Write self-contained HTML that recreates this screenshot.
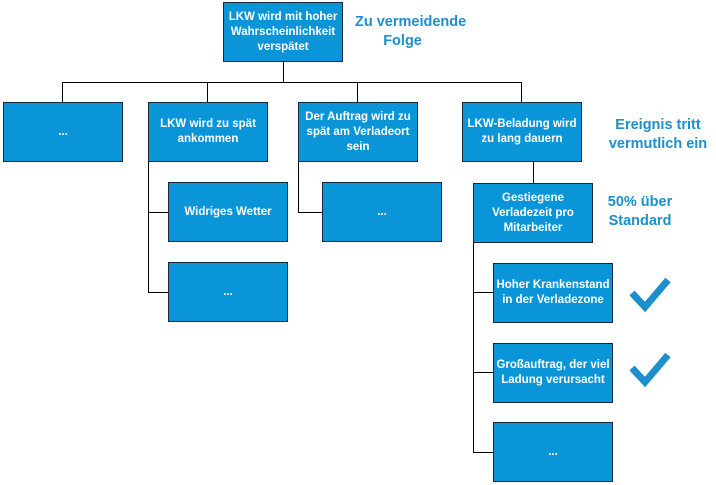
<!DOCTYPE html><html><head><style>
body{margin:0;width:716px;height:485px;background:#fff;position:relative;overflow:hidden;font-family:"Liberation Sans",Arial,sans-serif}
.b{position:absolute;width:118px;height:58px;background:#0a95d8;border:1px solid #1a2a3a;color:#fff;font-weight:bold;font-size:11.5px;display:flex;align-items:center;justify-content:center;text-align:center;line-height:15px}
.l{position:absolute;background:#000}
.t{position:absolute;color:#1c8fcc;font-weight:bold;font-size:14.5px;text-align:center;line-height:19px}
</style></head><body>
<div class="l" style="left:283px;top:62px;width:1px;height:20px"></div>
<div class="l" style="left:62px;top:82px;width:460px;height:1px"></div>
<div class="l" style="left:62px;top:82px;width:1px;height:20px"></div>
<div class="l" style="left:207px;top:82px;width:1px;height:20px"></div>
<div class="l" style="left:357px;top:82px;width:1px;height:20px"></div>
<div class="l" style="left:521px;top:82px;width:1px;height:20px"></div>
<div class="l" style="left:148px;top:162px;width:1px;height:130px"></div>
<div class="l" style="left:148px;top:212px;width:20px;height:1px"></div>
<div class="l" style="left:148px;top:292px;width:20px;height:1px"></div>
<div class="l" style="left:298px;top:162px;width:1px;height:50px"></div>
<div class="l" style="left:298px;top:212px;width:24px;height:1px"></div>
<div class="l" style="left:533px;top:162px;width:1px;height:21px"></div>
<div class="l" style="left:473px;top:242px;width:1px;height:210px"></div>
<div class="l" style="left:473px;top:292px;width:20px;height:1px"></div>
<div class="l" style="left:473px;top:372px;width:20px;height:1px"></div>
<div class="l" style="left:473px;top:452px;width:20px;height:1px"></div>
<div class="b" style="left:223px;top:2px">LKW wird mit hoher Wahrscheinlichkeit verspätet</div>
<div class="b" style="left:3px;top:102px">...</div>
<div class="b" style="left:148px;top:102px">LKW wird zu spät ankommen</div>
<div class="b" style="left:298px;top:102px">Der Auftrag wird zu spät am Verladeort sein</div>
<div class="b" style="left:462px;top:102px">LKW-Beladung wird zu lang dauern</div>
<div class="b" style="left:168px;top:182px">Widriges Wetter</div>
<div class="b" style="left:168px;top:262px">...</div>
<div class="b" style="left:322px;top:182px">...</div>
<div class="b" style="left:473px;top:183px">Gestiegene Verladezeit pro Mitarbeiter</div>
<div class="b" style="left:493px;top:263px">Hoher Krankenstand in der Verladezone</div>
<div class="b" style="left:493px;top:343px">Großauftrag, der viel Ladung verursacht</div>
<div class="b" style="left:493px;top:422px">...</div>
<div class="t" style="left:355px;top:13px;text-align:left">Zu vermeidende<br>&nbsp;&nbsp;&nbsp;&nbsp;&nbsp;&nbsp;&nbsp;Folge</div>
<div class="t" style="left:596px;top:116px;width:124px">Ereignis tritt<br>vermutlich ein</div>
<div class="t" style="left:600px;top:193px;width:80px">50% über<br>Standard</div>
<svg style="position:absolute;left:0;top:0" width="716" height="485"><g fill="none" stroke="#1c8fcc" stroke-width="7"><polyline points="632,293 645,307 668,280"/><polyline points="632,368 645,382 668,355"/></g></svg>
</body></html>
